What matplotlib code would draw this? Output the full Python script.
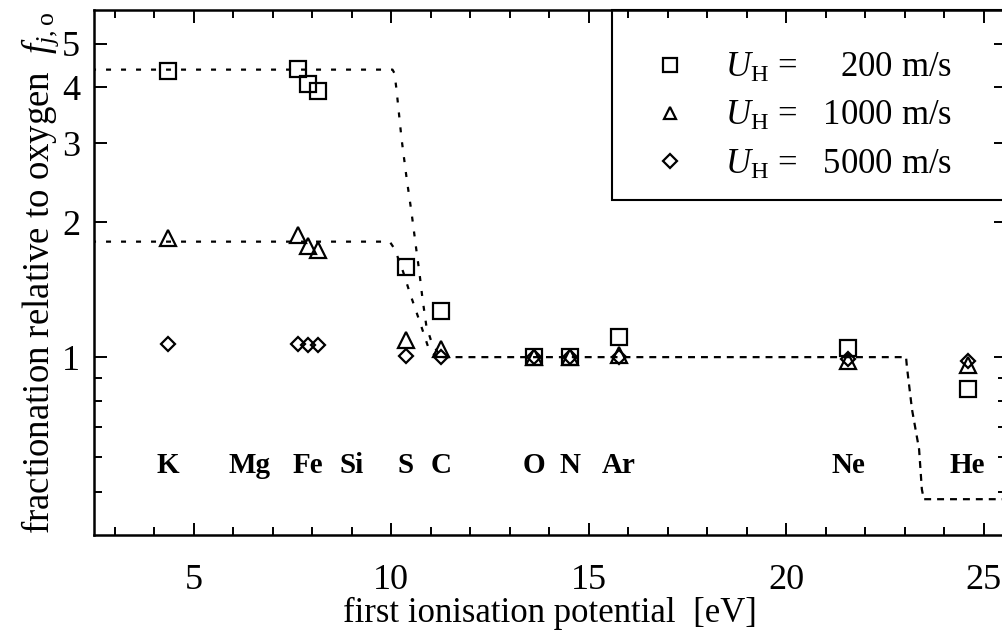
import matplotlib.pyplot as plt
from matplotlib.patches import Rectangle
from matplotlib.ticker import MultipleLocator, NullFormatter

plt.rcParams['font.family'] = 'Liberation Serif'
plt.rcParams['mathtext.fontset'] = 'custom'
plt.rcParams['mathtext.rm'] = 'Liberation Serif'
plt.rcParams['mathtext.it'] = 'Liberation Serif:italic'
plt.rcParams['lines.scale_dashes'] = False

# Elements and their first ionisation potentials (eV)
elements = ['K', 'Mg', 'Fe', 'Si', 'S', 'C', 'O', 'N', 'Ar', 'Ne', 'He']
fip = [4.34, 7.65, 7.90, 8.15, 10.36, 11.26, 13.62, 14.53, 15.76, 21.56, 24.59]
# Mg and Si labels are moved sideways so they don't collide with Fe
label_shift = {'Mg': -1.25, 'Si': 0.85}

# Fractionation relative to oxygen for three hydrogen flow speeds
f_200 = [4.35, 4.39, 4.07, 3.93, 1.59, 1.27, 1.00, 1.00, 1.11, 1.05, 0.85]
f_1000 = [1.84, 1.87, 1.77, 1.73, 1.09, 1.04, 1.00, 1.00, 1.01, 0.98, 0.96]
f_5000 = [1.07, 1.07, 1.065, 1.065, 1.005, 1.00, 1.00, 1.00, 1.00, 0.99, 0.98]

# Model curves
model_200_x = [2.4, 10.03, 10.08, 10.13, 10.26, 10.39, 10.51, 10.64, 10.71,
               10.79, 10.89, 11.02, 11.22]
model_200_y = [4.38, 4.38, 4.30, 3.97, 3.07, 2.50, 2.11, 1.72, 1.55,
               1.35, 1.17, 1.08, 1.01]
model_1000_x = [2.4, 9.96, 10.09, 10.30, 10.47, 10.72, 10.97, 11.18]
model_1000_y = [1.81, 1.81, 1.74, 1.55, 1.39, 1.20, 1.03, 1.00]
model_tail_x = [11.3, 23.03, 23.05, 23.18, 23.36, 23.43, 23.48, 25.7]
model_tail_y = [1.00, 1.00, 0.955, 0.765, 0.623, 0.507, 0.482, 0.482]

fig = plt.figure(figsize=(10.03, 6.32), dpi=100)
ax = fig.add_axes([94 / 1003, 97 / 632, 912 / 1003, 525 / 632])

short_dots = (0, (3.6, 7.2))
long_dash = (0, (5.0, 4.3))
ax.plot(model_200_x, model_200_y, color='black', lw=1.6, ls=short_dots, zorder=2)
ax.plot(model_1000_x, model_1000_y, color='black', lw=1.6, ls=short_dots, zorder=2)
ax.plot(model_tail_x, model_tail_y, color='black', lw=1.6, ls=long_dash, zorder=2)

sq, = ax.plot(fip, f_200, 's', ms=11.5, mfc='none', mec='black', mew=1.6, zorder=3)
tri, = ax.plot(fip, f_1000, '^', ms=11.5, mfc='none', mec='black', mew=1.6, zorder=3)
dia, = ax.plot(fip, f_5000, 'D', ms=7.6, mfc='none', mec='black', mew=1.6, zorder=3)

for name, x in zip(elements, fip):
    ax.text(x + label_shift.get(name, 0.0), 0.574, name, ha='center', va='center',
            fontsize=21, fontweight='bold')

ax.set_yscale('log')
ax.set_xlim(2.475, 25.56)
ax.set_ylim(0.401, 5.95)
ax.set_yticks([1, 2, 3, 4, 5], ['1', '2', '3', '4', '5'])
ax.set_yticks([0.5, 0.6, 0.7, 0.8, 0.9], minor=True)
ax.yaxis.set_minor_formatter(NullFormatter())
ax.set_xticks([5, 10, 15, 20, 25])
ax.xaxis.set_minor_locator(MultipleLocator(1))

ax.tick_params(which='both', direction='in', top=True, right=True, width=1.4,
               labelsize=26)
ax.tick_params(which='major', length=9)
ax.tick_params(which='minor', length=5.5)
ax.tick_params(axis='x', pad=21)
ax.tick_params(axis='y', pad=10)
for sp in ax.spines.values():
    sp.set_linewidth(1.8)

ax.set_xlabel('first ionisation potential  [eV]', fontsize=25, labelpad=0)
ax.set_ylabel(r'fractionation relative to oxygen  $f_{j,\mathrm{o}}$', fontsize=26.5,
              labelpad=1)

# legend box hangs from the top frame and runs past the right edge
box = Rectangle((0.568, 0.638), 0.6, 0.362, transform=ax.transAxes,
                facecolor='white', edgecolor='black', lw=1.5, clip_on=False,
                zorder=1)
ax.add_patch(box)

labels = [r'$U_{\mathrm{H}}$ =     200 m/s',
          r'$U_{\mathrm{H}}$ =   1000 m/s',
          r'$U_{\mathrm{H}}$ =   5000 m/s']
leg = ax.legend([sq, tri, dia], labels, loc='upper left',
                bbox_to_anchor=(0.568, 1.0), borderaxespad=0, borderpad=1.2,
                handlelength=0.94, handletextpad=1.1, labelspacing=0.44,
                fontsize=25, frameon=False, numpoints=1)
leg.set_zorder(1.2)
for h, s in zip(leg.legend_handles, [10, 9, 7]):
    h.set_markersize(s)

fig.savefig('out.png', dpi=100)
